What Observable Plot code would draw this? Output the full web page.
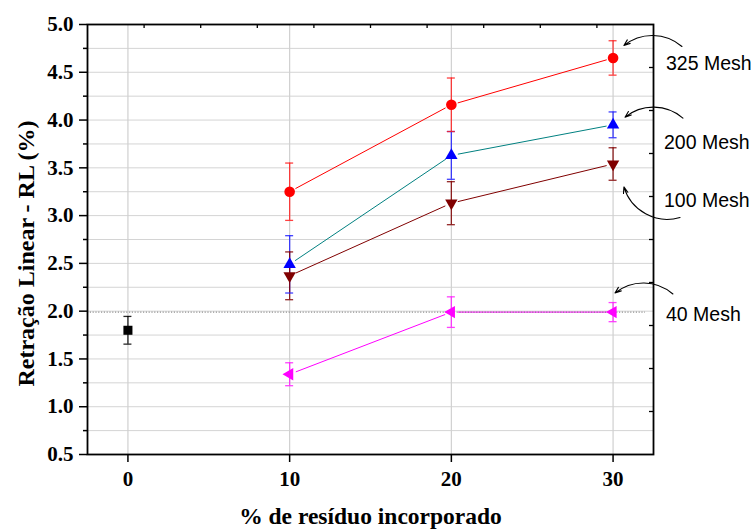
<!DOCTYPE html>
<html>
<head>
<meta charset="utf-8">
<script src="https://cdn.jsdelivr.net/npm/d3@7"></script>
<script src="https://cdn.jsdelivr.net/npm/@observablehq/plot@0.6"></script>
<style>
  html, body { margin: 0; padding: 0; background: #fff; }
</style>
</head>
<body>
<div id="chart"></div>
<script>
// ---- data ----
const xCategories = [10, 20, 30];
const mesh325 = [3.25, 4.16, 4.65];
const err325  = [0.30, 0.28, 0.18];
const mesh200 = [2.49, 3.63, 3.95];
const err200  = [0.30, 0.25, 0.135];
const mesh100 = [2.37, 3.13, 3.54];
const err100  = [0.25, 0.225, 0.17];
const mesh40  = [1.34, 1.99, 1.99];
const err40   = [0.12, 0.16, 0.10];
const controlX = [0];
const controlY = [1.80];
const controlErr = [0.145];
const refLine = [1.99];

const xTickLabels = [0, 10, 20, 30];
const yMajorTicks = [0.5, 1.0, 1.5, 2.0, 2.5, 3.0, 3.5, 4.0, 4.5, 5.0];
const yMinorTicks = [0.75, 1.25, 1.75, 2.25, 2.75, 3.25, 3.75, 4.25, 4.75];
const topTicks = [1, 4.5, 8, 11.5, 15, 18.5, 22, 25.5, 29];
const rightTicks = [0.95, 1.40, 1.85, 2.30, 2.75, 3.20, 3.65, 4.10, 4.55];

const seriesNames = ["325 Mesh", "200 Mesh", "100 Mesh", "40 Mesh"];
// annotation anchors in data units: label position, arrow start, arrow tip
const labelX = [33.27, 33.15, 33.15, 33.27];
const labelY = [4.52, 3.70, 3.09, 1.90];
const arrowStartX = [34.26, 34.32, 34.14, 33.70];
const arrowStartY = [4.77, 4.02, 2.98, 2.18];
const arrowTipX = [30.67, 30.74, 30.67, 30.12];
const arrowTipY = [4.78, 4.03, 3.30, 2.19];
const arrowBend = [-40, -40, 45, -40];

const xTitle = "% de resíduo incorporado";
const yTitle = "Retração Linear - RL (%)";

// ---- build tables ----
const series = [
  {values: mesh325, errs: err325, marker: "#ff0000", line: "#ff0000", err: "#ff2020", symbol: "circle", r: 5.3, rotate: 0},
  {values: mesh200, errs: err200, marker: "#0000ff", line: "#008080", err: "#2020ff", symbol: "triangle", r: 4.6, rotate: 0},
  {values: mesh100, errs: err100, marker: "#800000", line: "#800000", err: "#800000", symbol: "triangle", r: 4.6, rotate: 180},
  {values: mesh40, errs: err40, marker: "#ff00ff", line: "#ff00ff", err: "#ff20ff", symbol: "triangle", r: 4.6, rotate: -90}
];

const segs = [];
series.forEach(s => {
  for (let i = 0; i < xCategories.length - 1; i++) {
    segs.push({x1: xCategories[i], y1: s.values[i], x2: xCategories[i + 1], y2: s.values[i + 1], color: s.line});
  }
});

const errRows = [];
series.forEach(s => {
  xCategories.forEach((x, i) => errRows.push({x, y: s.values[i], e: s.errs[i], color: s.err}));
});
controlX.forEach((x, i) => errRows.push({x, y: controlY[i], e: controlErr[i], color: "#000000"}));

const annotations = seriesNames.map((name, i) => ({
  name, lx: labelX[i], ly: labelY[i],
  x1: arrowStartX[i], y1: arrowStartY[i], x2: arrowTipX[i], y2: arrowTipY[i], bend: arrowBend[i]
}));

const yGrid = yMajorTicks.concat(yMinorTicks).filter(v => v > 0.5 && v < 5.0);

const marks = [
  Plot.ruleY(yGrid, {y: d => d, stroke: "#d4d4d4", strokeWidth: 1}),
  Plot.ruleX(xTickLabels, {x: d => d, stroke: "#d0d0d0", strokeWidth: 1.2}),
  Plot.arrow(segs, {x1: "x1", y1: "y1", x2: "x2", y2: "y2", stroke: "color", strokeWidth: 1, headLength: 0, insetStart: 7, insetEnd: 7}),
  Plot.ruleY(refLine, {y: d => d, x1: -2.5, x2: 32, stroke: "#7a7a7a", strokeWidth: 1, strokeDasharray: "1.2,1.6"}),
  Plot.ruleX(errRows, {x: "x", y1: d => d.y - d.e, y2: d => d.y + d.e, stroke: "color", strokeWidth: 1.3, strokeOpacity: 0.85}),
  Plot.ruleY(errRows, {y: d => d.y + d.e, x1: "x", x2: "x", insetLeft: -4, insetRight: -4, stroke: "color", strokeWidth: 1.3, strokeOpacity: 0.85}),
  Plot.ruleY(errRows, {y: d => d.y - d.e, x1: "x", x2: "x", insetLeft: -4, insetRight: -4, stroke: "color", strokeWidth: 1.3, strokeOpacity: 0.85}),
  ...series.map(s => Plot.dot(xCategories.map((x, i) => ({x, y: s.values[i]})), {
    x: "x", y: "y", symbol: s.symbol, r: s.r, rotate: s.rotate, fill: s.marker, stroke: "none"
  })),
  Plot.dot(controlX.map((x, i) => ({x, y: controlY[i]})), {x: "x", y: "y", symbol: "square", r: 5.1, fill: "#000000", stroke: "none"}),
  Plot.frame({stroke: "#000", strokeWidth: 1.8}),
  Plot.ruleX(topTicks, {x: d => d, insetBottom: 426, stroke: "#000", strokeWidth: 1.3}),
  Plot.ruleY(rightTicks, {y: d => d, insetLeft: 562, stroke: "#000", strokeWidth: 1.3}),
  Plot.axisY({ticks: yMajorTicks, tickSize: 8, tickPadding: 6, tickFormat: d => d.toFixed(1), strokeWidth: 1.5, fontSize: 21, label: null}),
  Plot.axisY({ticks: yMinorTicks, tickSize: 4, tickFormat: () => "", strokeWidth: 1.5, label: null}),
  Plot.axisX({ticks: xTickLabels, tickSize: 8, tickPadding: 9, tickFormat: d => String(d), strokeWidth: 1.5, fontSize: 21, label: null}),
  Plot.text([yTitle], {text: d => d, frameAnchor: "left", rotate: -90, dx: -54, dy: 14, lineAnchor: "bottom", textAnchor: "middle", fontSize: 24, fontWeight: "bold"}),
  Plot.text([xTitle], {text: d => d, frameAnchor: "bottom", dy: 69, lineAnchor: "bottom", textAnchor: "middle", fontSize: 23.5, fontWeight: "bold"}),
  ...annotations.map(a => Plot.arrow([a], {x1: "x1", y1: "y1", x2: "x2", y2: "y2", bend: a.bend, stroke: "#000", strokeWidth: 1.1, headLength: 9, headAngle: 40})),
  Plot.text(annotations, {x: "lx", y: "ly", text: "name", textAnchor: "start", lineAnchor: "bottom", fontFamily: "'Liberation Sans', Arial, sans-serif", fontWeight: "normal", fontSize: 19.5, fill: "#000"})
];

const chart = Plot.plot({
  width: 752,
  height: 529,
  marginTop: 24,
  marginRight: 99,
  marginBottom: 75,
  marginLeft: 87,
  x: {domain: [-2.5, 32.5]},
  y: {domain: [0.5, 5.0]},
  color: {type: "identity"},
  style: {fontFamily: "'Liberation Serif', 'Times New Roman', serif", fontWeight: "bold", fontSize: "21px", color: "#000", background: "#fff", overflow: "visible"},
  marks
});
document.getElementById("chart").appendChild(chart);
</script>
</body>
</html>
